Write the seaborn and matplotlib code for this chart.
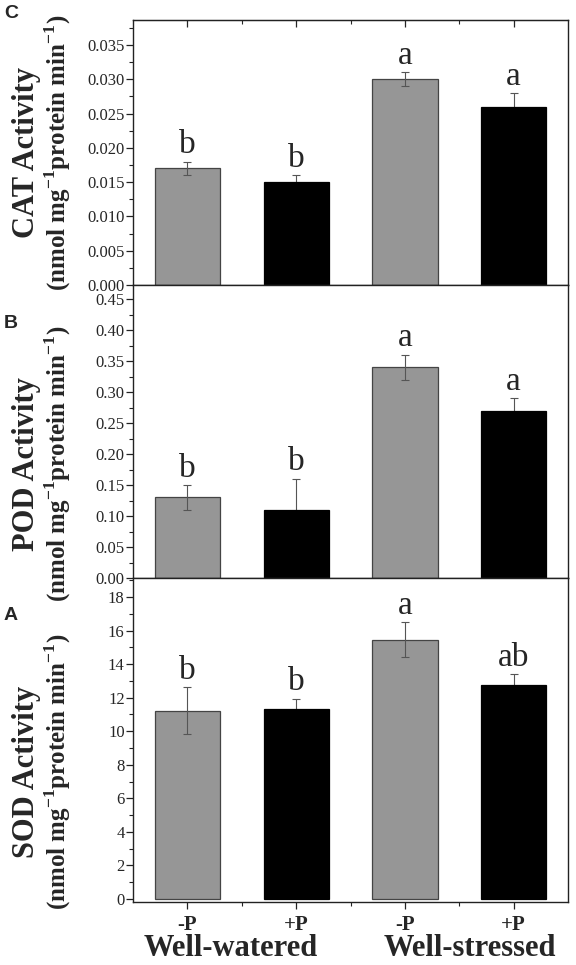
import seaborn as sns
import matplotlib.pyplot as plt
import matplotlib.ticker as mticker
import matplotlib.transforms as mtransforms
import pandas as pd

# values
bar_ids = ["WW -P", "WW +P", "WS -P", "WS +P"]
p_labels = ["-P", "+P", "-P", "+P"]
water_labels = ["Well-watered", "Well-stressed"]
bar_colors = ["#969696", "#000000", "#969696", "#000000"]

cat_mean = [0.017, 0.015, 0.030, 0.026]
cat_err = [0.001, 0.001, 0.001, 0.002]
cat_letters = ["b", "b", "a", "a"]

pod_mean = [0.13, 0.11, 0.34, 0.27]
pod_err = [0.02, 0.05, 0.02, 0.02]
pod_letters = ["b", "b", "a", "a"]

sod_mean = [11.22, 11.33, 15.46, 12.78]
sod_err = [1.4, 0.6, 1.03, 0.6]
sod_letters = ["b", "b", "a", "ab"]

sns.set_style("ticks")
plt.rcParams["font.family"] = ["Liberation Serif", "DejaVu Serif"]
plt.rcParams["mathtext.fontset"] = "custom"
plt.rcParams["mathtext.bf"] = "Liberation Serif:bold"
plt.rcParams["mathtext.rm"] = "Liberation Serif"

W, H = 576, 965
fig = plt.figure(figsize=(W / 100, H / 100), dpi=100)


def px_axes(top, bottom, left=133, right=568):
    return fig.add_axes([left / W, 1 - bottom / H, (right - left) / W, (bottom - top) / H])


panels = [
    # name, mean, err, letters, top px, bottom px, ylim, ticks, fmt, label centre, panel letter
    ("CAT", cat_mean, cat_err, cat_letters, 20, 285, (0, 0.03865), 0.005, "%.3f", 153, "C", 14),
    ("POD", pod_mean, pod_err, pod_letters, 285, 578, (0, 0.4726), 0.05, "%.2f", 464, "B", 324),
    ("SOD", sod_mean, sod_err, sod_letters, 578, 902, (-0.18, 19.13), 2, "%d", 772, "A", 615),
]

for name, mean, err, letters, top, bottom, ylim, step, fmt, lab_y, plet, plet_y in panels:
    ax = px_axes(top, bottom)
    df = pd.DataFrame({"bar": bar_ids, "value": mean})
    sns.barplot(data=df, x="bar", y="value", hue="bar", palette=bar_colors,
                legend=False, width=0.6, errorbar=None, ax=ax, zorder=1)

    for i, p in enumerate(ax.patches):
        gray = bar_colors[i] != "#000000"
        p.set_edgecolor("#444444" if gray else "#000000")
        p.set_linewidth(0.9)
        xc = p.get_x() + p.get_width() / 2
        ax.errorbar(xc, mean[i], yerr=err[i], color="#555555", lw=0.8,
                    capsize=3, capthick=0.8, zorder=3 if gray else 0.5)
        ax.annotate(letters[i], (xc, mean[i] + err[i]), xytext=(0, 6),
                    textcoords="offset points", ha="center", va="baseline",
                    fontsize=24)

    ax.set_xlim(-0.5, 3.5)
    ax.set_ylim(*ylim)
    ax.yaxis.set_major_locator(mticker.MultipleLocator(step))
    ax.yaxis.set_minor_locator(mticker.MultipleLocator(step / 2))
    ax.yaxis.set_major_formatter(mticker.FormatStrFormatter(fmt))
    ax.set_xticks(range(4))
    ax.xaxis.set_minor_locator(mticker.FixedLocator([0.5, 1.5, 2.5]))
    ax.tick_params(axis="both", which="major", length=5, width=0.9, direction="out",
                   labelsize=12, color="#222222")
    ax.tick_params(axis="both", which="minor", length=3, width=0.8, direction="out",
                   color="#222222")
    ax.tick_params(axis="y", pad=1)
    for lab in ax.get_yticklabels():
        lab.set_fontfamily("Liberation Serif")
    ax.set_xlabel("")
    ax.set_ylabel("")
    for s in ax.spines.values():
        s.set_visible(True)
        s.set_linewidth(1.0)
        s.set_color("#222222")

    if name == "CAT":
        sec = ax.secondary_xaxis("top")
        sec.set_xticks(range(4))
        sec.xaxis.set_minor_locator(mticker.FixedLocator([0.5, 1.5, 2.5]))
        sec.tick_params(which="major", direction="in", length=5, width=0.9, labeltop=False)
        sec.tick_params(which="minor", direction="in", length=3, width=0.8)

    if name == "SOD":
        ax.set_xticklabels(p_labels, fontsize=15, fontweight="bold",
                           fontfamily="Liberation Serif")
        ax.tick_params(axis="x", pad=4)
        tr = mtransforms.blended_transform_factory(ax.transData, fig.transFigure)
        for xg, lab in zip([0.4, 2.6], water_labels):
            ax.text(xg, 1 - 956 / H, lab, transform=tr, ha="center", va="baseline",
                    fontsize=22, fontweight="bold")
    else:
        ax.set_xticklabels([])

    # two-line y label
    fig.text(27 / W, 1 - lab_y / H, f"{name} Activity", rotation=90, ha="center",
             va="center", fontsize=22, fontweight="bold")
    fig.text(58 / W, 1 - lab_y / H,
             r"(nmol mg$^{\mathbf{-1}}$protein min$^{\mathbf{-1}}$)", rotation=90,
             ha="center", va="center", fontsize=18, fontweight="bold")
    fig.text(11 / W, 1 - plet_y / H, plet, ha="center", va="center", fontsize=14,
             fontweight="bold", family="Liberation Sans")

fig.savefig("out.png", dpi=100)
